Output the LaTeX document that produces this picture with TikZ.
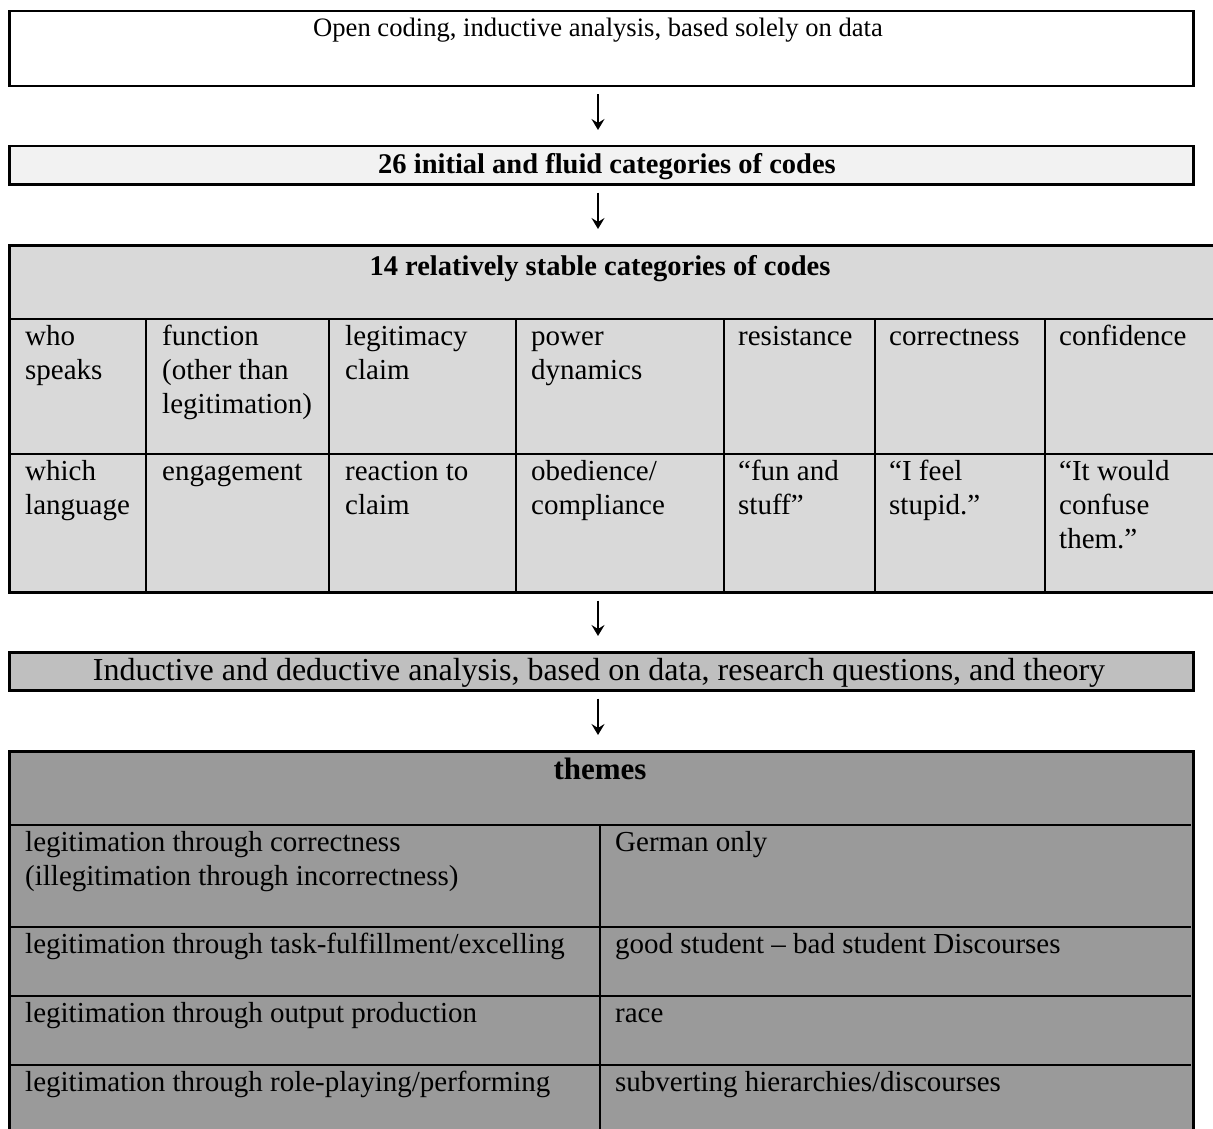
\documentclass[tikz,border=0pt]{standalone}
\usepackage{fontspec}
\setmainfont{Liberation Serif}
\usetikzlibrary{arrows.meta}

\definecolor{stepone}{HTML}{F2F2F2}
\definecolor{steptwo}{HTML}{D9D9D9}
\definecolor{stepthree}{HTML}{BFBFBF}
\definecolor{stepfour}{HTML}{9A9A9A}

% keeps the first line of every cell at the same height
\newcommand{\cellstrut}{\rule{0pt}{21pt}}

\tikzset{
  box/.style={draw, line width=2.5pt, anchor=north west, inner sep=0pt, minimum width=1184pt},
  cell/.style={anchor=north west, inner sep=0pt, align=left,
    font=\fontsize{29}{34}\selectfont},
  head/.style={anchor=base, inner sep=0pt, font=\fontsize{28.5}{33}\selectfont\bfseries},
  plain/.style={anchor=base, inner sep=0pt, font=\fontsize{26.6}{33}\selectfont},
  flow/.style={-{Stealth[length=11pt,width=13pt,inset=4pt]}, line width=1.4pt,
    shorten <=7pt, shorten >=15pt},
  grid/.style={line width=2.5pt}
}

\begin{document}
\begin{tikzpicture}[x=1pt,y=-1pt]
\useasboundingbox (0,0) rectangle (1213,1129);
\clip (0,0) rectangle (1213,1129);
\coordinate (mid) at (598,0);

% the steps
\node[box, minimum height=75pt] (open) at (8,10) {};
\node[box, minimum height=38pt, fill=stepone] (initial) at (8,145) {};
\node[box, minimum height=347pt, minimum width=1230pt, fill=steptwo] (stable) at (8,244) {};
\node[box, minimum height=38pt, fill=stepthree] (mixed) at (8,651) {};
\node[box, minimum height=420pt, fill=stepfour] (themes) at (8,750) {};

\node[plain] (opentxt) at (598,37) {Open coding, inductive analysis, based solely on data};
\node[head] (initialtxt) at (607,174) {26 initial and fluid categories of codes};
\node[head] (stabletxt) at (600,275) {14 relatively stable categories of codes};
\node[plain, font=\fontsize{32}{36}\selectfont] (mixedtxt) at (599,680)
  {Inductive and deductive analysis, based on data, research questions, and theory};
\node[head, font=\fontsize{31}{36}\selectfont\bfseries] (themestxt) at (600,779) {themes};

% arrows
\draw[flow] (open.south -| mid) -- (initial.north -| mid);
\draw[flow] (initial.south -| mid) -- (stable.north -| mid);
\draw[flow] (stable.south -| mid) -- (mixed.north -| mid);
\draw[flow] (mixed.south -| mid) -- (themes.north -| mid);

% 14 categories
\draw[grid] (8,319) -- (1230,319) (8,454) -- (1230,454);
\foreach \x in {146,329,516,724,875,1045}
  \draw[grid] (\x,319) -- (\x,591);

\node[cell] (who) at (25,324) {\cellstrut who\\speaks};
\node[cell] (function) at (162,324) {\cellstrut function\\(other than\\legitimation)};
\node[cell] (claim) at (345,324) {\cellstrut legitimacy\\claim};
\node[cell] (power) at (531,324) {\cellstrut power\\dynamics};
\node[cell] (resist) at (738,324) {\cellstrut resistance};
\node[cell] (correct) at (889,324) {\cellstrut correctness};
\node[cell] (confid) at (1059,324) {\cellstrut confidence};

\node[cell] (language) at (25,459) {\cellstrut which\\language};
\node[cell] (engage) at (162,459) {\cellstrut engagement};
\node[cell] (react) at (345,459) {\cellstrut reaction to\\claim};
\node[cell] (obey) at (531,459) {\cellstrut obedience/\\compliance};
\node[cell] (fun) at (738,459) {\cellstrut “fun and\\stuff”};
\node[cell] (stupid) at (889,459) {\cellstrut “I feel\\stupid.”};
\node[cell] (confuse) at (1059,459) {\cellstrut “It would\\confuse\\them.”};

% themes
\draw[grid] (8,825) -- (1191,825) (8,927) -- (1191,927)
            (8,996) -- (1191,996) (8,1065) -- (1191,1065);
\draw[grid] (600,825) -- (600,1140);

\node[cell] (corrtheme) at (25,830) {\cellstrut legitimation through correctness\\(illegitimation through incorrectness)};
\node[cell] (tasktheme) at (25,932) {\cellstrut legitimation through task-fulfillment/excelling};
\node[cell] (outtheme) at (25,1001) {\cellstrut legitimation through output production};
\node[cell] (roletheme) at (25,1070) {\cellstrut legitimation through role-playing/performing};
\node[cell] (german) at (615,830) {\cellstrut German only};
\node[cell] (student) at (615,932) {\cellstrut good student – bad student Discourses};
\node[cell] (race) at (615,1001) {\cellstrut race};
\node[cell] (subvert) at (615,1070) {\cellstrut subverting hierarchies/discourses};
\end{tikzpicture}
\end{document}
